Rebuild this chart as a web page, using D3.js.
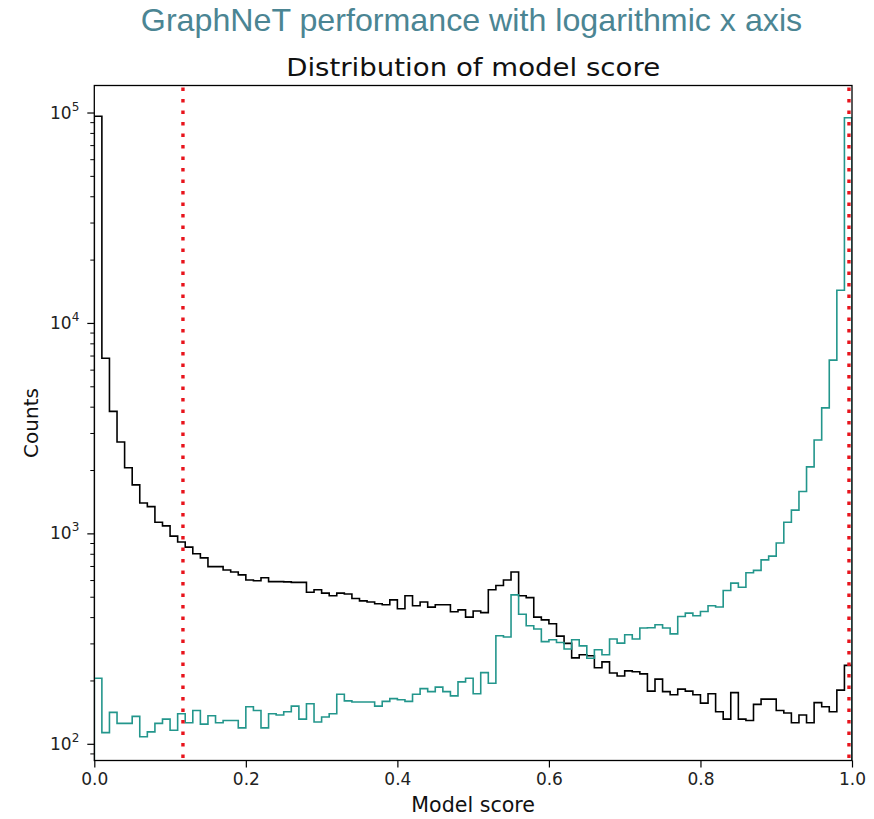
<!DOCTYPE html>
<html>
<head>
<meta charset="utf-8">
<script src="https://cdn.jsdelivr.net/npm/d3@7"></script>
<style>
  body { margin: 0; background: #fff; }
  svg { display: block; }
</style>
</head>
<body>
<div id="chart"></div>
<script>
// histogram bins: 100 bins of model score between 0 and 1
const binCount = 100;
const binEdges = d3.range(binCount + 1).map(i => i / binCount);

// black histogram
const blackCounts = [
  96000, 6800, 3800, 2720, 2050, 1700, 1395, 1340, 1130, 1085,
  970, 910, 860, 800, 765, 695, 695, 670, 655, 635,
  600, 595, 615, 590, 590, 588, 585, 585, 525, 540,
  520, 505, 520, 515, 490, 478, 472, 463, 458, 483,
  438, 505, 453, 472, 446, 458, 458, 424, 433, 400,
  428, 420, 540, 565, 600, 655, 505, 495, 400, 388,
  372, 325, 300, 256, 265, 262, 230, 245, 217, 210,
  222, 220, 215, 178, 203, 177, 171, 182, 178, 171,
  156, 173, 142, 131, 175, 131, 129, 154, 163, 163,
  144, 140, 126, 137, 126, 157, 150, 142, 180, 236
];

// teal histogram
const tealCounts = [
  205, 113, 141, 125, 125, 135, 108, 114, 125, 131,
  116, 139, 126, 144, 124, 136, 126, 129, 129, 119,
  150, 144, 119, 139, 137, 142, 151, 131, 155, 127,
  134, 139, 172, 160, 158, 158, 158, 151, 159, 164,
  162, 159, 172, 183, 177, 186, 177, 169, 197, 205,
  173, 218, 194, 326, 322, 510, 413, 364, 351, 306,
  312, 303, 282, 312, 292, 255, 280, 265, 315, 301,
  330, 315, 355, 356, 368, 355, 333, 403, 418, 406,
  425, 453, 447, 535, 580, 555, 650, 667, 748, 780,
  900, 1130, 1290, 1580, 2070, 2780, 3950, 6660, 14300, 94400
];

// red dotted cut lines
const cutValues = [0.117, 0.996];

const xTickValues = [0, 0.2, 0.4, 0.6, 0.8, 1.0];
const yTickExponents = [2, 3, 4, 5];

const pageTitle = 'GraphNeT performance with logarithmic x axis';
const chartTitle = 'Distribution of model score';
const xLabel = 'Model score';
const yLabel = 'Counts';

const W = 874, H = 819;
const margin = { top: 85.5, right: 22, bottom: 58.5, left: 94.3 };

const svg = d3.select('#chart').append('svg')
  .attr('width', W)
  .attr('height', H);

const x = d3.scaleLinear()
  .domain([0, 1])
  .range([margin.left, W - margin.right]);

const y = d3.scaleLog()
  .domain([83.3, 134400])
  .range([H - margin.bottom, margin.top]);

// titles
svg.append('text')
  .attr('x', 471.5).attr('y', 31)
  .attr('text-anchor', 'middle')
  .attr('font-family', '"Liberation Sans", Arial, sans-serif')
  .attr('font-size', 32.2)
  .attr('fill', '#4b8593')
  .text(pageTitle);

svg.append('text')
  .attr('x', (x(0) + x(1)) / 2).attr('y', 76)
  .attr('text-anchor', 'middle')
  .attr('font-family', '"DejaVu Sans", sans-serif')
  .attr('font-size', 25.5)
  .attr('textLength', 374)
  .attr('lengthAdjust', 'spacingAndGlyphs')
  .attr('fill', '#111')
  .text(chartTitle);

// clip for histogram lines
svg.append('defs').append('clipPath').attr('id', 'plot-clip')
  .append('rect')
  .attr('x', x(0)).attr('y', y.range()[1])
  .attr('width', x(1) - x(0))
  .attr('height', y.range()[0] - y.range()[1]);

function stepPoints(counts) {
  const pts = [[binEdges[0], y.domain()[0]]];
  counts.forEach((c, i) => {
    pts.push([binEdges[i], c]);
    pts.push([binEdges[i + 1], c]);
  });
  pts.push([binEdges[binCount], y.domain()[0]]);
  return pts;
}

const line = d3.line()
  .x(d => x(d[0]))
  .y(d => y(d[1]));

const plot = svg.append('g').attr('clip-path', 'url(#plot-clip)');

plot.append('path')
  .datum(stepPoints(blackCounts))
  .attr('fill', 'none')
  .attr('stroke', '#000')
  .attr('stroke-width', 1.6)
  .attr('d', line);

plot.append('path')
  .datum(stepPoints(tealCounts))
  .attr('fill', 'none')
  .attr('stroke', '#23968c')
  .attr('stroke-width', 1.6)
  .attr('d', line);

plot.selectAll('line.cut')
  .data(cutValues)
  .join('line')
  .attr('class', 'cut')
  .attr('x1', d => x(d)).attr('x2', d => x(d))
  .attr('y1', y.range()[1] + 2).attr('y2', y.range()[0])
  .attr('stroke', '#e8141c')
  .attr('stroke-width', 3.4)
  .attr('stroke-dasharray', '3.4,8.1');

// x axis
const xAxis = svg.append('g')
  .attr('transform', `translate(0,${y.range()[0]})`)
  .call(d3.axisBottom(x)
    .tickValues(xTickValues)
    .tickFormat(d3.format('.1f'))
    .tickSize(7)
    .tickPadding(5));
xAxis.select('.domain').remove();
xAxis.selectAll('line').attr('stroke', '#000').attr('stroke-width', 1.2);
xAxis.selectAll('text')
  .attr('font-family', '"DejaVu Sans", sans-serif')
  .attr('font-size', 17)
  .attr('fill', '#222');

// y axis: major decades with superscript labels, minor ticks between
const yAxis = svg.append('g')
  .attr('transform', `translate(${x.range()[0]},0)`)
  .call(d3.axisLeft(y)
    .tickValues(yTickExponents.map(e => Math.pow(10, e)))
    .tickFormat('')
    .tickSize(7));
yAxis.select('.domain').remove();
yAxis.selectAll('line').attr('stroke', '#000').attr('stroke-width', 1.2);

const minorTicks = y.ticks().filter(v => Math.abs(Math.log10(v) - Math.round(Math.log10(v))) > 1e-6);
svg.append('g')
  .attr('transform', `translate(${x.range()[0]},0)`)
  .call(d3.axisLeft(y).tickValues(minorTicks).tickFormat('').tickSize(4))
  .call(g => g.select('.domain').remove())
  .selectAll('line').attr('stroke', '#000').attr('stroke-width', 1);

const yLabels = svg.append('g')
  .attr('font-family', '"DejaVu Sans", sans-serif')
  .attr('fill', '#222');
yTickExponents.forEach(e => {
  const t = yLabels.append('text')
    .attr('x', x.range()[0] - 15)
    .attr('y', y(Math.pow(10, e)) + 6)
    .attr('text-anchor', 'end')
    .attr('font-size', 17);
  t.append('tspan').text('10');
  t.append('tspan')
    .attr('dy', -8)
    .attr('font-size', 12)
    .text(e);
});

// frame
svg.append('rect')
  .attr('x', x.range()[0]).attr('y', y.range()[1])
  .attr('width', x.range()[1] - x.range()[0])
  .attr('height', y.range()[0] - y.range()[1])
  .attr('fill', 'none')
  .attr('stroke', '#000')
  .attr('stroke-width', 1.3);

// axis labels
svg.append('text')
  .attr('x', (x(0) + x(1)) / 2).attr('y', 812)
  .attr('text-anchor', 'middle')
  .attr('font-family', '"DejaVu Sans", sans-serif')
  .attr('font-size', 20.6)
  .attr('fill', '#111')
  .text(xLabel);

svg.append('text')
  .attr('transform', `translate(38,${(y.range()[0] + y.range()[1]) / 2}) rotate(-90)`)
  .attr('text-anchor', 'middle')
  .attr('font-family', '"DejaVu Sans", sans-serif')
  .attr('font-size', 20)
  .attr('fill', '#111')
  .text(yLabel);
</script>
</body>
</html>
